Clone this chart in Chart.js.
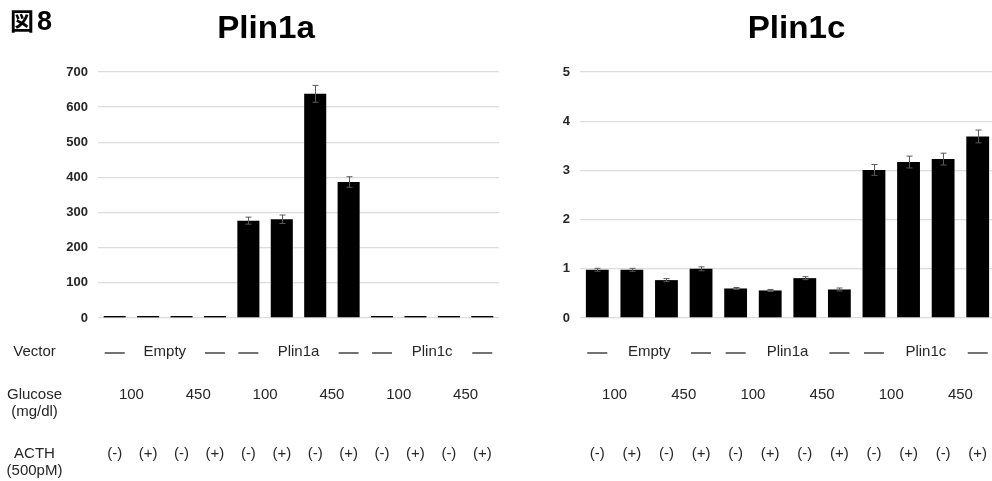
<!DOCTYPE html>
<html>
<head>
<meta charset="utf-8">
<script src="https://cdn.jsdelivr.net/npm/chart.js@4/dist/chart.umd.min.js"></script>
<style>
  html, body { margin: 0; padding: 0; background: #fff; width: 992px; height: 481px; overflow: hidden; }
  #wrap { position: relative; width: 992px; height: 481px; overflow: hidden; }
  canvas { position: absolute; top: 0; }
</style>
</head>
<body>
<div id="wrap">
  <canvas id="c1" width="500" height="481" style="left:0"></canvas>
  <canvas id="c2" width="496" height="481" style="left:500px"></canvas>
</div>
<script>
// Experimental conditions (one bar per combination)
const vectors = ['Empty', 'Plin1a', 'Plin1c'];
const glucoseLevels = ['100', '450'];
const acthStates = ['(-)', '(+)'];

// Plin1a expression
const plin1aMeans  = [1, 1, 1, 1, 277, 281, 638, 387, 1, 1, 1, 1];
const plin1aErrors = [0, 0, 0, 0, 10, 12, 24, 15, 0, 0, 0, 0];
const plin1aTicks  = [0, 100, 200, 300, 400, 500, 600, 700];

// Plin1c expression
const plin1cMeans  = [0.98, 0.98, 0.77, 1.00, 0.60, 0.56, 0.81, 0.58, 3.01, 3.17, 3.23, 3.69];
const plin1cErrors = [0.03, 0.03, 0.03, 0.04, 0.02, 0.02, 0.03, 0.03, 0.11, 0.12, 0.12, 0.13];
const plin1cTicks  = [0, 1, 2, 3, 4, 5];

const categories = [];
vectors.forEach(v => glucoseLevels.forEach(g => acthStates.forEach(a => categories.push(v + ' ' + g + ' ' + a))));

const FONT = '"Liberation Sans", Arial, sans-serif';
const CJK = '"Noto Sans CJK JP", sans-serif';
const TEXT = '#262626';

// Error bars: mean ± error, with small caps
const errorBars = {
  id: 'errorBars',
  afterDatasetsDraw(chart, args, opts) {
    const { ctx } = chart;
    const y = chart.scales.y;
    const meta = chart.getDatasetMeta(0);
    const means = chart.data.datasets[0].data;
    ctx.save();
    ctx.strokeStyle = '#5a5a5a';
    ctx.lineWidth = 1;
    meta.data.forEach((bar, i) => {
      const e = opts.errors[i];
      if (!e) return;
      const x = Math.round(bar.x) + 0.5;
      const top = y.getPixelForValue(means[i] + e);
      const bot = y.getPixelForValue(means[i] - e);
      ctx.beginPath();
      ctx.moveTo(x, top); ctx.lineTo(x, bot);
      ctx.moveTo(x - 3, top); ctx.lineTo(x + 3, top);
      ctx.moveTo(x - 3, bot); ctx.lineTo(x + 3, bot);
      ctx.stroke();
    });
    ctx.restore();
  }
};

// Panel title, figure number and the condition table under the bars
const panelText = {
  id: 'panelText',
  afterDraw(chart, args, opts) {
    const { ctx } = chart;
    const xs = chart.scales.x;
    const cx = i => xs.getPixelForValue(i);
    ctx.save();
    ctx.fillStyle = '#000';
    ctx.textBaseline = 'alphabetic';

    if (opts.figLabel) {
      ctx.textAlign = 'left';
      ctx.font = 'bold 24px ' + CJK;
      ctx.fillText(opts.figLabel[0], 10, 30);
      const w = ctx.measureText(opts.figLabel[0]).width;
      ctx.font = 'bold 27px ' + FONT;
      ctx.fillText(opts.figLabel[1], 10 + w + 3, 29.5);
    }

    // Title, slightly widened bold face
    ctx.save();
    ctx.font = 'bold 31px ' + FONT;
    ctx.textAlign = 'center';
    ctx.translate(opts.titleX, 38);
    ctx.scale(1.07, 1);
    ctx.fillText(opts.title, 0, 0);
    ctx.restore();

    ctx.fillStyle = TEXT;
    ctx.strokeStyle = TEXT;
    ctx.font = '15px ' + FONT;
    ctx.textAlign = 'center';
    ctx.textBaseline = 'middle';

    if (opts.rowLabels) {
      const lx = 34.5;
      ctx.fillText('Vector', lx, 352);
      ctx.fillText('Glucose', lx, 395);
      ctx.fillText('(mg/dl)', lx, 411.5);
      ctx.fillText('ACTH', lx, 454);
      ctx.fillText('(500pM)', lx, 470.5);
    }

    // Vector row: dash — name — dash over each group of four
    ctx.lineWidth = 1.3;
    vectors.forEach((v, g) => {
      const first = 4 * g, last = 4 * g + 3;
      [first, last].forEach(i => {
        ctx.beginPath();
        ctx.moveTo(cx(i) - 10, 353);
        ctx.lineTo(cx(i) + 10, 353);
        ctx.stroke();
      });
      ctx.fillText(v, (cx(first + 1) + cx(first + 2)) / 2, 352);
    });

    // Glucose row: one label per pair of bars
    for (let k = 0; k < categories.length / 2; k++) {
      ctx.fillText(glucoseLevels[k % 2], (cx(2 * k) + cx(2 * k + 1)) / 2, 395);
    }

    // ACTH row: one label per bar
    categories.forEach((c, i) => {
      ctx.fillText(acthStates[i % 2], cx(i), 454);
    });
    ctx.restore();
  }
};

function makeChart(id, means, errors, ticks, opts) {
  return new Chart(document.getElementById(id), {
    type: 'bar',
    data: {
      labels: categories,
      datasets: [{
        data: means,
        backgroundColor: '#000',
        borderWidth: 0,
        barPercentage: 0.66,
        categoryPercentage: 1,
        minBarLength: opts.minBar || 0
      }]
    },
    options: {
      responsive: false,
      animation: false,
      devicePixelRatio: 1,
      layout: { padding: { top: 72, bottom: 163, left: 0, right: opts.padRight } },
      plugins: {
        legend: { display: false },
        tooltip: { enabled: false },
        title: { display: false },
        errorBars: { errors },
        panelText: { title: opts.title, titleX: opts.titleX, rowLabels: opts.rowLabels, figLabel: opts.figLabel }
      },
      scales: {
        x: { display: false },
        y: {
          min: ticks[0],
          max: ticks[ticks.length - 1],
          afterBuildTicks: s => { s.ticks = ticks.map(v => ({ value: v })); },
          afterFit: s => { s.width = opts.axisWidth; },
          border: { display: false },
          grid: { color: '#dcdcdc', lineWidth: 1.3, drawTicks: false },
          ticks: {
            padding: 10,
            color: TEXT,
            font: { family: FONT, size: 13, weight: 'bold' }
          }
        }
      }
    },
    plugins: [errorBars, panelText]
  });
}

makeChart('c1', plin1aMeans, plin1aErrors, plin1aTicks,
  { title: 'Plin1a', titleX: 266, rowLabels: true, axisWidth: 98, padRight: 1, minBar: 2, figLabel: ['図', '8'] });
makeChart('c2', plin1cMeans, plin1cErrors, plin1cTicks,
  { title: 'Plin1c', titleX: 296.5, rowLabels: false, axisWidth: 80, padRight: 1 });
</script>
</body>
</html>
